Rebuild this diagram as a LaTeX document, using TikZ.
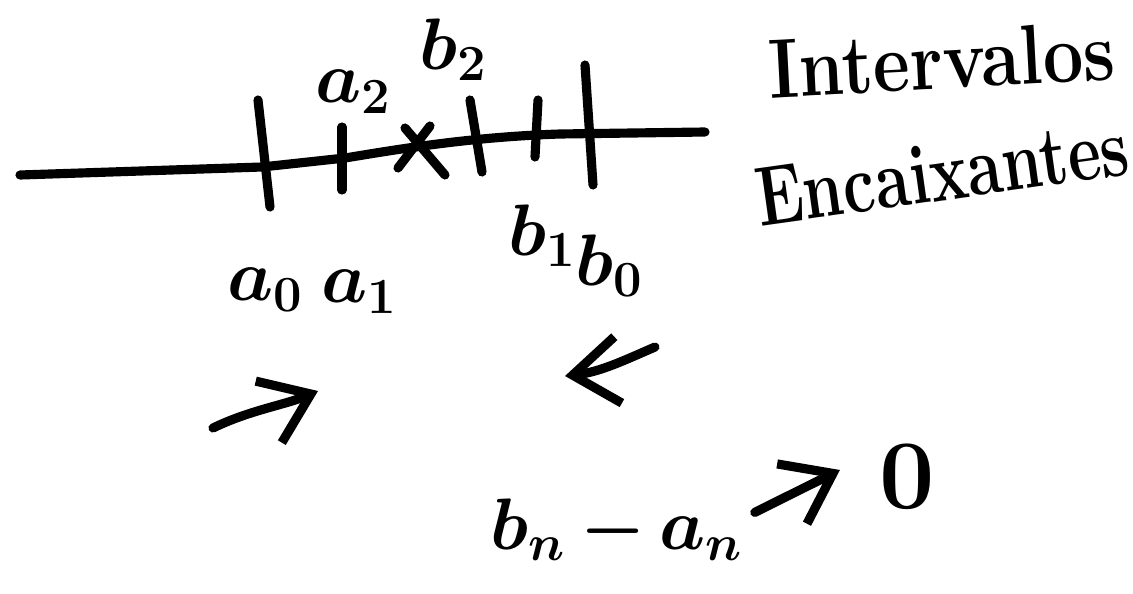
\documentclass[tikz,border=0pt]{standalone}
\usetikzlibrary{arrows.meta,positioning}
\tikzset{pen/.style={line width=2.6pt,line cap=round,line join=round},
lbl/.style={font=\fontsize{20}{24}\selectfont\boldmath,inner sep=0pt},
ttl/.style={font=\fontsize{24}{28}\selectfont\bfseries,inner sep=0pt},
arr/.style={pen,-{Straight Barb[length=13pt,width=19pt]}}}
\begin{document}
\begin{tikzpicture}[x=0.01cm,y=-0.01cm]
\useasboundingbox[fill=white] (0,0) rectangle (1133,594);
% the real line with the nested intervals
\draw[pen] (20,175) -- (262,167) -- (345,158) .. controls (400,149) and (470,137) .. (560,134) -- (705,132);
\foreach \xa/\ya/\xb/\yb in {258/100/270/207,342/127/342/190,470/100/482/172,538/100/535/157,585/65/593/185}
  \draw[pen] (\xa,\ya) -- (\xb,\yb);
\draw[pen] (405,128) -- (445,175) (398,168) -- (430,126);
% end points
\node[lbl] (a2) at (354,92) {$a_2$};
\node[lbl] (b2) at (454,50) {$b_2$};
\node[lbl] (a0) at (266,290) {$a_0$};
\node[lbl] (a1) at (360,292) {$a_1$};
\node[lbl] (b1) at (543,236) {$b_1$};
\node[lbl] (b0) at (610,266) {$b_0$};
% title
\node[ttl,rotate=3] (tint) at (942,60) {\scalebox{0.85}[1]{Intervalos}};
\node[ttl,rotate=8] (tenc) at (942,172) {\scalebox{0.76}[1]{Encaixantes}};
% directions
\coordinate (tipa) at (318,391);
\coordinate (tipb) at (565,376);
\draw[arr] (213,428) .. controls (250,410) and (285,405) .. (tipa);
\draw[arr] (655,347) .. controls (625,360) and (600,372) .. (tipb);
% length goes to zero
\node[lbl,font=\fontsize{22}{26}\selectfont\boldmath] (bn) at (617,530) {$b_n\,{-}\,a_n$};
\node[lbl,font=\fontsize{28}{32}\selectfont\bfseries] (zero) at (907,477) {0};
\draw[arr] ([shift={(3pt,5pt)}]bn.east) -- ([shift={(-11pt,2pt)}]zero.west);
\end{tikzpicture}
\end{document}
